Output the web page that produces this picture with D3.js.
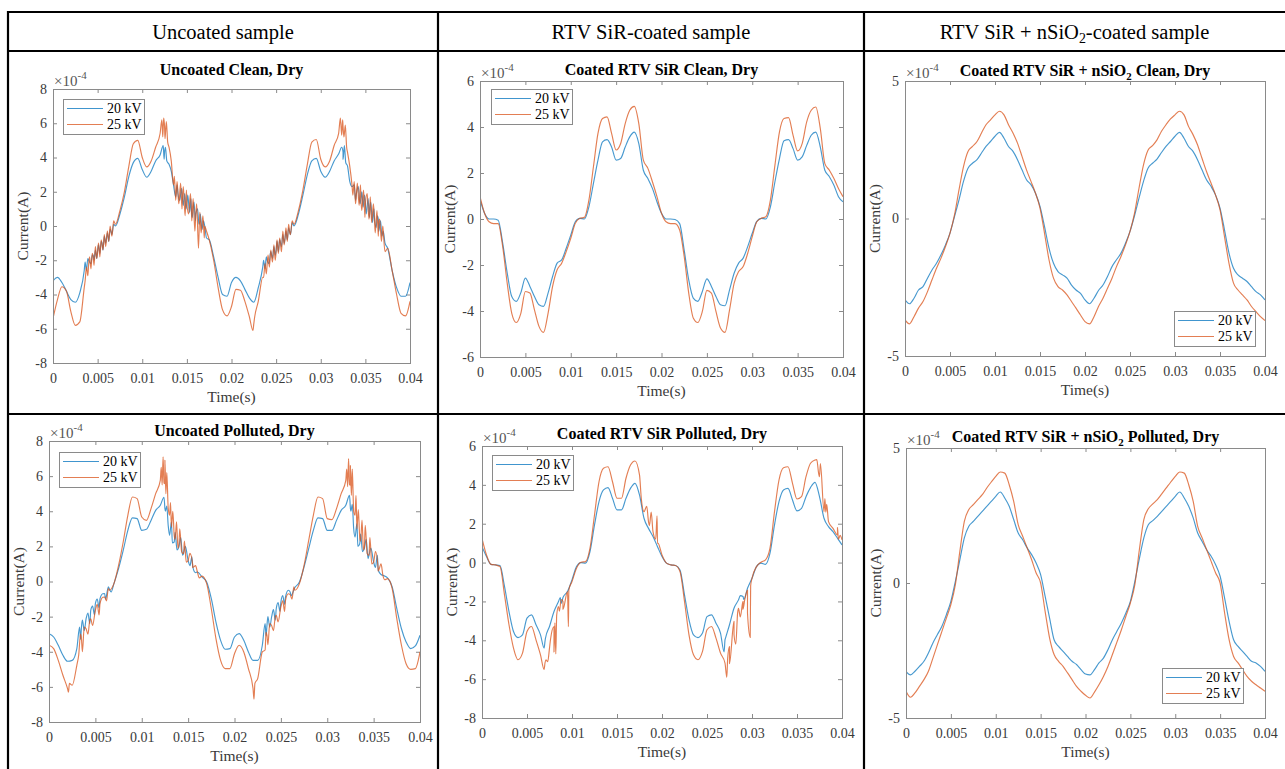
<!DOCTYPE html>
<html>
<head>
<meta charset="utf-8">
<script src="https://cdn.jsdelivr.net/npm/d3@7"></script>
<style>
  body { margin: 0; background: #fff; }
  svg { display: block; }
  text { font-family: "Liberation Serif", "Times New Roman", serif; }
</style>
</head>
<body>
<svg id="fig" width="1285" height="769"></svg>
<script>
// ---------------------------------------------------------------------------
// Leakage current waveforms, two 50 Hz cycles (0 – 40 ms), sampled every 0.5 ms.
// Current values are in units of 1e-4 A (the axes carry the ×10^-4 multiplier).
// ---------------------------------------------------------------------------
const timeMs = d3.range(0, 40.25, 0.5);          // 81 sample instants, ms
const timeTickMs = [0, 5, 10, 15, 20, 25, 30, 35, 40];
const timeTickLabels = ["0", "0.005", "0.01", "0.015", "0.02", "0.025", "0.03", "0.035", "0.04"];
const seriesLabels = ["20 kV", "25 kV"];

// Uncoated, clean, dry
const uncoatedClean20 = [
  -3.2, -3.0, -3.3, -3.8, -4.3, -4.45, -3.9, -2.6, -2.0, -1.7,
  -1.4, -1.0, -0.7, -0.3, 0.0, 0.7, 1.7, 2.9, 3.7, 3.95,
  3.3, 2.85, 3.2, 3.8, 4.15, 4.3, 3.6, 2.4, 1.9, 1.6,
  1.3, 1.0, 0.7, 0.35, 0.0, -0.8, -1.8, -3.0, -4.0, -4.1,
  -3.3, -3.0, -3.2, -3.7, -4.2, -4.45, -3.6, -2.4, -2.0, -1.7,
  -1.4, -1.0, -0.7, -0.3, 0.0, 0.7, 1.8, 3.0, 3.8, 3.95,
  3.2, 2.85, 3.2, 3.8, 4.2, 4.3, 3.5, 2.3, 1.9, 1.6,
  1.3, 1.0, 0.6, 0.2, -0.3, -1.3, -2.6, -3.6, -4.1, -4.1,
  -3.3];
const uncoatedClean25 = [
  -5.4, -4.3, -3.55, -3.8, -5.0, -5.8, -5.6, -3.6, -2.2, -1.8,
  -1.5, -1.1, -0.7, -0.3, 0.1, 0.9, 2.0, 3.5, 4.8, 5.0,
  4.0, 3.45, 3.8, 4.6, 5.4, 5.8, 4.6, 2.4, 1.9, 1.6,
  1.3, 1.0, 0.7, 0.35, 0.0, -0.8, -2.0, -3.6, -4.9, -5.25,
  -4.7, -3.7, -3.75, -4.4, -5.3, -5.7, -4.4, -3.0, -2.2, -1.8,
  -1.5, -1.1, -0.7, -0.3, 0.1, 0.9, 2.1, 3.6, 4.9, 5.05,
  3.9, 3.45, 3.8, 4.7, 5.4, 5.8, 4.3, 2.4, 1.9, 1.6,
  1.3, 1.0, 0.6, 0.2, -0.3, -1.3, -2.6, -4.0, -5.1, -5.25,
  -4.4];
// discharge activity recorded between the regular samples: [ms, value]
const uncoatedClean20Spikes = [
  [3.6, -2.1], [3.75, -2.6], [3.9, -1.9], [4.25, -2.2], [4.4, -1.7], [4.6, -2.0], [4.75, -1.4],
  [4.9, -1.9], [5.1, -1.1], [5.25, -1.6], [5.4, -0.9], [5.6, -1.4], [5.75, -0.6], [5.9, -1.0],
  [6.1, -0.4], [6.25, -0.9], [6.4, -0.2], [6.6, -0.5], [6.8, 0.1],
  [12.35, 4.7], [12.45, 3.9], [12.6, 4.6], [12.75, 3.8], [13.25, 3.2], [13.75, 1.7], [13.9, 2.4],
  [14.2, 1.5], [14.4, 2.2], [14.6, 1.2], [14.75, 1.9], [14.9, 1.0], [15.1, 1.8], [15.3, 0.8],
  [15.45, 1.6], [15.6, 0.5], [15.8, 1.4], [15.95, 0.3], [16.2, 1.0], [16.35, 0.1], [16.5, 0.7],
  [16.7, -0.2], [16.85, 0.3], [17.2, -0.7],
  [23.6, -2.0], [23.75, -2.5], [23.9, -1.8], [24.2, -2.2], [24.4, -1.5], [24.6, -1.9], [24.75, -1.2],
  [24.9, -1.7], [25.1, -0.9], [25.25, -1.5], [25.4, -0.8], [25.6, -1.2], [25.75, -0.5], [25.9, -1.0],
  [26.1, -0.3], [26.25, -0.8], [26.4, -0.1], [26.6, -0.5], [26.8, 0.2],
  [32.35, 4.6], [32.5, 3.9], [32.65, 4.7], [32.8, 3.7], [33.25, 2.6], [33.75, 2.4], [33.9, 1.5],
  [34.2, 2.3], [34.4, 1.3], [34.6, 2.0], [34.75, 1.1], [34.9, 1.8], [35.1, 0.7], [35.3, 1.6],
  [35.45, 0.5], [35.6, 1.4], [35.8, 0.2], [35.95, 1.0], [36.2, -0.1], [36.35, 0.6], [36.5, -0.3],
  [36.7, 0.3], [36.85, -0.6], [37.2, -1.0]];
const uncoatedClean25Spikes = [
  [3.6, -3.2], [3.75, -2.4], [3.9, -2.9], [4.1, -1.8], [4.25, -2.5], [4.4, -1.6], [4.6, -2.3],
  [4.75, -1.2], [4.9, -1.9], [5.1, -1.0], [5.25, -1.8], [5.4, -0.8], [5.6, -1.4], [5.75, -0.5],
  [5.9, -1.2], [6.1, -0.3], [6.25, -0.9], [6.4, 0.0], [6.6, -0.6], [6.8, 0.3],
  [12.2, 6.2], [12.3, 5.2], [12.4, 6.3], [12.55, 5.1], [12.7, 6.1], [12.85, 4.9], [13.25, 3.8],
  [13.6, 2.9], [13.75, 1.5], [13.9, 2.6], [14.1, 1.3], [14.3, 2.5], [14.45, 1.0], [14.6, 2.3],
  [14.8, 0.6], [14.95, 2.1], [15.2, 0.7], [15.4, 1.9], [15.55, 0.3], [15.7, 1.6], [15.9, -0.3],
  [16.1, 1.3], [16.3, -1.3], [16.45, 0.8], [16.6, -0.4], [16.8, 0.6], [16.95, -0.7], [17.2, -0.3],
  [22.4, -6.1], [22.6, -5.3],
  [23.6, -3.0], [23.75, -2.2], [23.9, -2.8], [24.1, -1.7], [24.25, -2.4], [24.4, -1.4], [24.6, -2.1],
  [24.75, -1.1], [24.9, -2.0], [25.1, -0.8], [25.25, -1.6], [25.4, -0.7], [25.6, -1.5], [25.75, -0.3],
  [25.9, -1.1], [26.1, -0.1], [26.25, -0.9], [26.4, 0.1], [26.6, -0.5], [26.8, 0.3],
  [32.2, 6.3], [32.35, 5.3], [32.45, 6.2], [32.6, 5.2], [32.75, 5.9], [32.9, 4.6], [33.25, 3.5],
  [33.6, 1.8], [33.75, 2.6], [33.9, 1.3], [34.1, 2.5], [34.3, 1.2], [34.45, 2.4], [34.6, 0.9],
  [34.8, 2.1], [34.95, 0.5], [35.2, 1.9], [35.4, 0.4], [35.55, 1.7], [35.7, 0.2], [35.9, 1.3],
  [36.1, -0.4], [36.3, 0.9], [36.45, -0.6], [36.6, 0.4], [36.8, -0.9], [36.95, 0.0], [37.2, -1.5]];

// RTV SiR coated, clean, dry
const rtvClean20 = [
  0.85, 0.25, 0.0, 0.0, -0.05, -1.05, -2.35, -3.37, -3.58, -3.2,
  -2.57, -2.93, -3.37, -3.73, -3.8, -3.22, -2.5, -1.92, -1.78, -1.27,
  -0.7, -0.12, 0.03, 0.0, 0.53, 1.55, 2.56, 3.35, 3.45, 3.13,
  2.56, 2.63, 3.13, 3.57, 3.78, 3.28, 2.12, 1.76, 1.33, 0.75,
  0.25, 0.0, 0.0, -0.02, -0.2, -1.35, -2.65, -3.44, -3.58, -3.15,
  -2.6, -2.93, -3.37, -3.73, -3.77, -3.08, -2.36, -1.92, -1.7, -1.2,
  -0.62, -0.1, 0.03, 0.0, 0.53, 1.62, 2.63, 3.4, 3.45, 3.06,
  2.56, 2.7, 3.2, 3.64, 3.78, 3.13, 2.12, 1.84, 1.47, 0.97,
  0.75];
const rtvClean25 = [
  0.97, 0.25, -0.12, -0.2, -0.2, -1.2, -2.8, -4.1, -4.5, -4.1,
  -3.15, -3.22, -3.95, -4.67, -4.93, -4.1, -2.93, -2.21, -1.92, -1.42,
  -0.84, -0.19, 0.03, 0.07, 0.82, 2.27, 3.72, 4.37, 4.44, 3.72,
  3.0, 3.28, 4.15, 4.73, 4.9, 4.15, 2.56, 2.2, 1.62, 0.97,
  0.25, -0.12, -0.2, -0.2, -0.48, -1.63, -3.22, -4.3, -4.5, -4.02,
  -3.1, -3.22, -4.02, -4.74, -4.93, -3.95, -2.8, -2.28, -2.07, -1.49,
  -0.77, -0.12, 0.03, 0.1, 0.82, 2.34, 3.79, 4.37, 4.41, 3.64,
  2.96, 3.28, 4.22, 4.73, 4.87, 3.93, 2.41, 2.12, 1.76, 1.33,
  0.97];

// RTV SiR + nSiO2 coated, clean, dry
const nsioClean20 = [
  -2.96, -3.1, -2.9, -2.6, -2.48, -2.17, -1.87, -1.63, -1.32, -0.96,
  -0.53, 0.07, 0.68, 1.35, 1.83, 2.01, 2.14, 2.38, 2.62, 2.8,
  2.99, 3.13, 2.92, 2.62, 2.44, 2.14, 1.77, 1.41, 1.23, 0.92,
  0.44, -0.29, -1.08, -1.63, -1.93, -2.05, -2.17, -2.42, -2.6, -2.72,
  -2.96, -3.1, -2.9, -2.62, -2.42, -2.11, -1.75, -1.5, -1.26, -0.9,
  -0.47, 0.1, 0.74, 1.35, 1.83, 2.01, 2.16, 2.4, 2.62, 2.8,
  2.99, 3.13, 2.92, 2.62, 2.44, 2.14, 1.77, 1.41, 1.17, 0.86,
  0.38, -0.41, -1.26, -1.81, -2.05, -2.17, -2.29, -2.48, -2.66, -2.78,
  -2.96];
const nsioClean25 = [
  -3.69, -3.83, -3.57, -3.26, -3.02, -2.66, -2.23, -1.81, -1.44, -1.02,
  -0.53, 0.13, 1.04, 1.89, 2.44, 2.62, 2.8, 3.11, 3.41, 3.59,
  3.77, 3.9, 3.77, 3.41, 3.11, 2.74, 2.26, 1.77, 1.35, 0.92,
  0.38, -0.53, -1.5, -2.17, -2.48, -2.6, -2.78, -3.02, -3.26, -3.51,
  -3.75, -3.83, -3.57, -3.2, -2.9, -2.54, -2.17, -1.75, -1.38, -0.96,
  -0.47, 0.19, 1.1, 1.95, 2.48, 2.65, 2.86, 3.17, 3.41, 3.62,
  3.77, 3.9, 3.77, 3.35, 3.05, 2.68, 2.19, 1.71, 1.29, 0.86,
  0.32, -0.66, -1.63, -2.35, -2.6, -2.78, -2.96, -3.2, -3.39, -3.57,
  -3.71];

// Uncoated, polluted, dry
const uncoatedPolluted20 = [
  -2.97, -3.16, -3.63, -4.2, -4.54, -4.49, -3.82, -2.59, -2.12, -1.64,
  -1.26, -0.98, -0.69, -0.41, -0.12, 0.73, 1.77, 2.91, 3.62, 3.58,
  2.91, 2.97, 3.48, 4.05, 4.34, 4.15, 2.63, 2.25, 1.96, 1.58,
  1.2, 0.83, 0.54, 0.26, -0.03, -0.98, -2.31, -3.35, -3.86, -3.82,
  -3.16, -2.97, -3.35, -4.01, -4.49, -4.49, -3.63, -2.5, -2.02, -1.55,
  -1.17, -0.88, -0.6, -0.35, -0.03, 0.83, 1.87, 2.91, 3.62, 3.58,
  2.91, 2.91, 3.48, 4.05, 4.34, 4.15, 2.53, 2.15, 1.87, 1.49,
  1.11, 0.64, 0.35, 0.2, -0.31, -1.55, -2.69, -3.44, -3.82, -3.67,
  -3.06];
const uncoatedPolluted25 = [
  -3.63, -3.82, -4.49, -5.34, -6.1, -5.91, -4.77, -3.25, -2.69, -2.12,
  -1.64, -1.26, -0.88, -0.5, -0.12, 0.92, 2.25, 3.77, 4.81, 4.72,
  3.67, 3.48, 4.15, 5.0, 5.76, 5.57, 3.77, 2.63, 2.06, 1.58,
  1.2, 0.92, 0.54, 0.31, -0.12, -1.55, -3.25, -4.49, -4.96, -4.96,
  -4.11, -3.63, -4.01, -4.96, -6.1, -5.53, -4.01, -3.06, -2.5, -1.93,
  -1.45, -1.07, -0.75, -0.5, -0.12, 0.92, 2.34, 3.77, 4.81, 4.72,
  3.58, 3.52, 4.15, 5.0, 5.76, 5.48, 3.77, 2.53, 1.96, 1.49,
  1.11, 0.64, 0.35, 0.16, -0.41, -2.12, -3.63, -4.68, -5.0, -4.96,
  -4.01];
const uncoatedPolluted20Spikes = [
  [3.3, -2.6], [3.4, -3.3], [3.6, -2.2], [3.8, -2.8], [4.2, -1.8], [4.4, -2.4], [4.7, -1.4],
  [4.9, -1.9], [5.2, -1.0], [5.4, -1.5], [5.8, -0.7], [6.1, -1.0], [6.4, -0.3], [6.7, -0.6],
  [12.4, 4.8], [12.55, 4.0], [12.7, 4.3], [12.85, 3.2], [13.2, 3.4], [13.3, 2.2], [13.6, 2.8],
  [13.8, 1.8], [14.2, 2.5], [14.4, 1.5], [14.7, 2.0], [15.2, 0.9], [15.4, 1.4], [15.8, 0.5],
  [23.3, -2.4], [23.4, -3.1], [23.6, -2.0], [23.8, -2.6], [24.2, -1.6], [24.4, -2.2], [24.7, -1.2],
  [24.9, -1.7], [25.2, -0.8], [25.4, -1.3], [25.8, -0.5], [26.1, -0.8],
  [32.4, 4.9], [32.55, 4.0], [32.7, 4.4], [32.85, 3.0], [33.2, 3.3], [33.3, 2.0], [33.6, 2.7],
  [33.8, 1.7], [34.2, 2.4], [34.4, 1.3], [34.7, 1.9], [35.2, 0.8], [35.4, 1.5], [35.8, 0.4]];
const uncoatedPolluted25Spikes = [
  [2.1, -6.3], [2.2, -5.8],
  [3.2, -4.2], [3.4, -3.0], [3.6, -4.0], [3.8, -2.6], [4.2, -3.0], [4.4, -2.2], [4.7, -2.5],
  [5.2, -1.3], [5.4, -1.9], [5.8, -0.9], [6.2, -1.1], [6.4, -0.4],
  [12.1, 6.5], [12.2, 5.5], [12.3, 7.1], [12.4, 5.6], [12.5, 6.9], [12.6, 5.0], [12.7, 6.2],
  [12.85, 4.2], [13.1, 4.5], [13.2, 3.1], [13.35, 4.0], [13.6, 2.4], [13.75, 3.4], [13.9, 1.9],
  [14.1, 3.0], [14.3, 1.7], [14.6, 2.3], [14.8, 1.1], [15.2, 1.6], [15.5, 0.8], [15.8, 0.9], [16.2, 0.2],
  [22.1, -6.7], [22.2, -5.8],
  [23.3, -3.9], [23.4, -2.9], [23.6, -3.6], [23.8, -2.4], [24.2, -2.8], [24.4, -2.0], [24.7, -2.3],
  [25.2, -1.1], [25.4, -1.7], [25.8, -0.7], [26.2, -1.0], [26.4, -0.3],
  [32.1, 6.4], [32.2, 5.4], [32.3, 7.0], [32.4, 5.5], [32.5, 6.6], [32.6, 4.9], [32.7, 6.4],
  [32.85, 4.0], [33.1, 4.9], [33.2, 3.0], [33.35, 4.1], [33.6, 2.3], [33.75, 3.5], [33.9, 1.8],
  [34.1, 3.2], [34.3, 1.6], [34.6, 2.5], [34.8, 1.0], [35.2, 1.7], [35.5, 0.6], [35.8, 1.0], [36.2, 0.1]];

// RTV SiR coated, polluted, dry
const rtvPolluted20 = [
  0.82, 0.31, -0.09, -0.12, -0.15, -1.23, -2.52, -3.55, -3.86, -3.72,
  -2.86, -2.69, -3.2, -3.72, -4.06, -3.29, -2.52, -2.0, -1.8, -1.49,
  -0.89, -0.21, 0.0, -0.03, 0.57, 1.94, 3.14, 3.74, 3.86, 3.31,
  2.71, 2.71, 3.31, 3.82, 4.08, 3.48, 2.28, 1.76, 1.34, 0.82,
  0.31, -0.03, -0.12, -0.15, -0.38, -1.66, -2.95, -3.72, -3.86, -3.63,
  -2.78, -2.69, -3.12, -3.63, -3.98, -3.2, -2.35, -1.92, -1.75, -1.32,
  -0.81, -0.21, -0.03, -0.09, 0.48, 1.94, 3.14, 3.74, 3.82, 3.22,
  2.66, 2.79, 3.39, 3.86, 4.13, 3.39, 2.28, 1.85, 1.59, 1.25,
  0.91];
const rtvPolluted25 = [
  1.25, 0.39, -0.09, -0.12, -0.21, -1.66, -3.2, -4.4, -5.0, -4.66,
  -3.55, -3.29, -3.98, -4.75, -5.17, -4.4, -3.29, -2.26, -2.0, -1.49,
  -0.98, -0.29, 0.02, 0.05, 0.74, 2.45, 4.16, 4.85, 4.93, 4.16,
  3.31, 3.31, 4.34, 5.02, 5.23, 4.51, 2.62, 2.11, 1.59, 0.99,
  0.39, -0.03, -0.12, -0.15, -0.46, -2.0, -3.72, -4.75, -5.0, -4.57,
  -3.46, -3.29, -3.89, -4.66, -5.17, -4.32, -3.03, -2.35, -2.0, -1.41,
  -0.81, -0.21, 0.02, 0.14, 0.74, 2.62, 4.25, 4.88, 4.93, 4.08,
  3.27, 3.39, 4.42, 5.11, 5.28, 4.42, 2.62, 2.11, 1.76, 1.42,
  1.17];
const rtvPolluted20Spikes = [
  [6.9, -4.4], [7.05, -3.9], [8.7, -1.8], [8.8, -2.1],
  [26.9, -4.6], [27.05, -3.9], [28.7, -1.7], [29.1, -1.9]];
const rtvPolluted25Spikes = [
  [6.9, -5.5], [7.1, -5.0], [7.3, -5.1], [7.6, -4.0], [8.0, -4.6], [8.1, -3.1], [8.2, -4.7],
  [8.3, -2.7], [8.6, -2.5], [8.8, -1.9], [9.0, -2.4], [9.6, -3.3], [9.65, -1.4],
  [17.7, 3.3], [18.3, 2.9], [18.6, 1.9], [18.8, 2.6], [19.3, 1.2], [19.45, 2.4], [19.55, 1.0],
  [27.2, -5.9], [27.3, -4.9], [27.5, -5.2], [28.0, -3.7], [28.2, -4.2], [28.4, -2.6], [28.7, -2.8],
  [29.0, -2.4], [29.2, -1.9], [29.5, -2.6], [29.8, -3.85], [29.85, -1.2],
  [37.2, 5.3], [37.4, 4.6], [37.6, 5.1], [38.1, 3.3], [38.2, 2.6], [38.3, 3.0],
  [39.5, 1.8], [39.6, 1.2], [39.8, 1.4]];

// RTV SiR + nSiO2 coated, polluted, dry
const nsioPolluted20 = [
  -3.27, -3.4, -3.27, -3.09, -2.9, -2.59, -2.22, -1.91, -1.6, -1.17,
  -0.68, 0.06, 0.86, 1.67, 2.1, 2.28, 2.47, 2.65, 2.84, 3.02,
  3.21, 3.37, 3.15, 2.84, 2.35, 1.85, 1.6, 1.3, 1.05, 0.74,
  0.31, -0.49, -1.3, -2.1, -2.35, -2.53, -2.72, -2.9, -3.02, -3.21,
  -3.37, -3.4, -3.21, -2.96, -2.78, -2.47, -2.1, -1.79, -1.48, -1.11,
  -0.68, 0.06, 0.9, 1.67, 2.16, 2.31, 2.47, 2.65, 2.84, 3.02,
  3.21, 3.37, 3.15, 2.84, 2.41, 1.85, 1.54, 1.23, 0.99, 0.68,
  0.25, -0.56, -1.42, -2.1, -2.35, -2.53, -2.72, -2.9, -2.96, -3.09,
  -3.27];
const nsioPolluted25 = [
  -4.01, -4.23, -4.07, -3.83, -3.58, -3.27, -2.78, -2.28, -1.79, -1.3,
  -0.8, -0.06, 1.17, 2.28, 2.72, 2.9, 3.09, 3.27, 3.52, 3.74,
  3.95, 4.11, 4.07, 3.64, 3.02, 2.16, 1.73, 1.3, 0.86, 0.37,
  0.0, -1.05, -2.04, -2.65, -2.9, -3.09, -3.33, -3.58, -3.83, -4.01,
  -4.16, -4.26, -4.04, -3.77, -3.46, -3.09, -2.65, -2.19, -1.73, -1.23,
  -0.74, -0.06, 1.23, 2.35, 2.75, 2.93, 3.09, 3.3, 3.52, 3.74,
  3.95, 4.11, 4.07, 3.64, 3.02, 2.1, 1.67, 1.23, 0.8, 0.37,
  0.0, -1.11, -2.1, -2.72, -2.96, -3.21, -3.46, -3.64, -3.77, -3.89,
  -4.01];

// ---------------------------------------------------------------------------
// Layout of the comparison table and its six panels
// ---------------------------------------------------------------------------
const COLOR_20 = "#0072BD";
const COLOR_25 = "#D95319";
const AXIS_GREY = "#8a8a8a";
const TICK_TEXT = "#3a3a3a";

const headers = [
  { cx: 223,    parts: [{ t: "Uncoated sample" }] },
  { cx: 651,    parts: [{ t: "RTV SiR-coated sample" }] },
  { cx: 1074.5, parts: [{ t: "RTV SiR + nSiO" }, { t: "2", sub: true }, { t: "-coated sample" }] }
];

const panels = [
  { title: [{ t: "Uncoated Clean, Dry" }], titleY: 75,
    s20: uncoatedClean20, s25: uncoatedClean25, k20: uncoatedClean20Spikes, k25: uncoatedClean25Spikes,
    yDomain: [-8, 8], yTicks: [-8, -6, -4, -2, 0, 2, 4, 6, 8],
    box: { x0: 53, x1: 410, y0: 89, y1: 363 }, legend: { x: 63, y: 99 } },
  { title: [{ t: "Coated RTV SiR Clean, Dry" }], titleY: 75,
    s20: rtvClean20, s25: rtvClean25,
    yDomain: [-6, 6], yTicks: [-6, -4, -2, 0, 2, 4, 6],
    box: { x0: 480, x1: 843, y0: 81, y1: 357 }, legend: { x: 491, y: 89 } },
  { title: [{ t: "Coated RTV SiR + nSiO" }, { t: "2", sub: true }, { t: " Clean, Dry" }], titleY: 76,
    s20: nsioClean20, s25: nsioClean25,
    yDomain: [-5, 5], yTicks: [-5, 0, 5],
    box: { x0: 905, x1: 1265, y0: 81, y1: 356 }, legend: { x: 1174, y: 311 } },
  { title: [{ t: "Uncoated Polluted, Dry" }], titleY: 436,
    s20: uncoatedPolluted20, s25: uncoatedPolluted25, k20: uncoatedPolluted20Spikes, k25: uncoatedPolluted25Spikes,
    yDomain: [-8, 8], yTicks: [-8, -6, -4, -2, 0, 2, 4, 6, 8],
    box: { x0: 49, x1: 420, y0: 441, y1: 722 }, legend: { x: 59, y: 452 } },
  { title: [{ t: "Coated RTV SiR Polluted, Dry" }], titleY: 439,
    s20: rtvPolluted20, s25: rtvPolluted25, k20: rtvPolluted20Spikes, k25: rtvPolluted25Spikes,
    yDomain: [-8, 6], yTicks: [-8, -6, -4, -2, 0, 2, 4, 6],
    box: { x0: 482, x1: 842, y0: 446, y1: 718 }, legend: { x: 492, y: 455 } },
  { title: [{ t: "Coated RTV SiR + nSiO" }, { t: "2", sub: true }, { t: " Polluted, Dry" }], titleY: 442,
    s20: nsioPolluted20, s25: nsioPolluted25,
    yDomain: [-5, 5], yTicks: [-5, 0, 5],
    box: { x0: 906, x1: 1265, y0: 448, y1: 718 }, legend: { x: 1162, y: 668 } }
];

const svg = d3.select("#fig");

// text made of runs, some of them subscripts
function richText(sel, parts, size) {
  parts.forEach((p, i) => {
    const prevSub = i > 0 && parts[i - 1].sub;
    const ts = sel.append("tspan").text(p.t);
    if (p.sub) ts.attr("font-size", size * 0.68).attr("dy", size * 0.22);
    else if (prevSub) ts.attr("dy", -size * 0.22);
  });
}

// ---- table rules and column headers ----
const rules = [
  [8, 12, 1285, 12], [8, 51, 1285, 51], [8, 414, 1285, 414],
  [8, 11, 8, 769], [438, 11, 438, 769], [864, 11, 864, 769]
];
svg.append("g").selectAll("line").data(rules).join("line")
  .attr("x1", d => d[0]).attr("y1", d => d[1]).attr("x2", d => d[2]).attr("y2", d => d[3])
  .attr("stroke", "#000").attr("stroke-width", 2.2);

headers.forEach(h => {
  const t = svg.append("text").attr("x", h.cx).attr("y", 38.5)
    .attr("text-anchor", "middle").attr("font-size", 20.5).attr("fill", "#000");
  richText(t, h.parts, 20.5);
});

// ---- panels ----
function seriesPoints(values, spikes) {
  const pts = timeMs.map((t, i) => [t, values[i]]);
  (spikes || []).forEach(s => pts.push(s));
  return pts.sort((a, b) => a[0] - b[0]);
}

panels.forEach((p, pi) => {
  const g = svg.append("g");
  const { x0, x1, y0, y1 } = p.box;
  const x = d3.scaleLinear().domain([0, 40]).range([x0, x1]);
  const y = d3.scaleLinear().domain(p.yDomain).range([y1, y0]);

  g.append("rect").attr("x", x0).attr("y", y0).attr("width", x1 - x0).attr("height", y1 - y0)
    .attr("fill", "#fff");

  const clipId = "clip" + pi;
  g.append("clipPath").attr("id", clipId).append("rect")
    .attr("x", x0).attr("y", y0).attr("width", x1 - x0).attr("height", y1 - y0);

  const styleAxis = sel => {
    sel.select(".domain").remove();
    sel.selectAll(".tick line").attr("stroke", AXIS_GREY);
    sel.selectAll(".tick text").attr("fill", TICK_TEXT).attr("font-size", 14)
      .attr("font-family", "Liberation Serif, Times New Roman, serif");
  };

  g.append("g").attr("transform", `translate(0,${y1})`)
    .call(d3.axisBottom(x).tickValues(timeTickMs).tickFormat((d, i) => timeTickLabels[i])
      .tickSizeInner(-4).tickSizeOuter(0).tickPadding(10)).call(styleAxis);
  g.append("g").attr("transform", `translate(0,${y0})`)
    .call(d3.axisTop(x).tickValues(timeTickMs).tickFormat("").tickSizeInner(-4).tickSizeOuter(0))
    .call(styleAxis);
  g.append("g").attr("transform", `translate(${x0},0)`)
    .call(d3.axisLeft(y).tickValues(p.yTicks).tickFormat(d => String(d))
      .tickSizeInner(-4).tickSizeOuter(0).tickPadding(6)).call(styleAxis);
  g.append("g").attr("transform", `translate(${x1},0)`)
    .call(d3.axisRight(y).tickValues(p.yTicks).tickFormat("").tickSizeInner(-4).tickSizeOuter(0))
    .call(styleAxis);

  // waveforms
  const line = d3.line().curve(d3.curveMonotoneX).x(d => x(d[0])).y(d => y(d[1]));
  const lines = g.append("g").attr("clip-path", `url(#${clipId})`).attr("fill", "none")
    .attr("stroke-width", 1.15).attr("stroke-linejoin", "round");
  lines.append("path").attr("d", line(seriesPoints(p.s20, p.k20)))
    .attr("stroke", COLOR_20).attr("stroke-opacity", 0.72);
  lines.append("path").attr("d", line(seriesPoints(p.s25, p.k25)))
    .attr("stroke", COLOR_25).attr("stroke-opacity", 0.75);

  // axes box
  g.append("rect").attr("x", x0 + 0.5).attr("y", y0 + 0.5)
    .attr("width", x1 - x0).attr("height", y1 - y0)
    .attr("fill", "none").attr("stroke", AXIS_GREY).attr("stroke-width", 1);

  // exponent marker
  const ex = g.append("text").attr("x", x0 + 1).attr("y", y0 - 3)
    .attr("font-size", 15).attr("fill", "#555");
  ex.append("tspan").text("×10");
  ex.append("tspan").text("-4").attr("font-size", 11).attr("dy", -7);

  // title
  const tt = g.append("text").attr("x", (x0 + x1) / 2).attr("y", p.titleY)
    .attr("text-anchor", "middle").attr("font-size", 16).attr("font-weight", "bold").attr("fill", "#000");
  richText(tt, p.title, 16);

  // axis labels
  g.append("text").attr("x", (x0 + x1) / 2).attr("y", y1 + 39)
    .attr("text-anchor", "middle").attr("font-size", 15.5).attr("fill", TICK_TEXT).text("Time(s)");
  g.append("text")
    .attr("transform", `translate(${x0 - 25},${(y0 + y1) / 2}) rotate(-90)`)
    .attr("text-anchor", "middle").attr("font-size", 15.5).attr("fill", TICK_TEXT).text("Current(A)");

  // legend
  const lg = g.append("g").attr("transform", `translate(${p.legend.x},${p.legend.y})`);
  lg.append("rect").attr("x", 0.5).attr("y", 0.5).attr("width", 81).attr("height", 35)
    .attr("fill", "#fff").attr("stroke", AXIS_GREY);
  [COLOR_20, COLOR_25].forEach((c, i) => {
    const ly = 9.5 + i * 16;
    lg.append("line").attr("x1", 4).attr("x2", 40).attr("y1", ly).attr("y2", ly)
      .attr("stroke", c).attr("stroke-opacity", 0.75).attr("stroke-width", 1.15);
    lg.append("text").attr("x", 44).attr("y", ly + 4.5).attr("font-size", 14)
      .attr("fill", "#000").text(seriesLabels[i]);
  });
});
</script>
</body>
</html>
